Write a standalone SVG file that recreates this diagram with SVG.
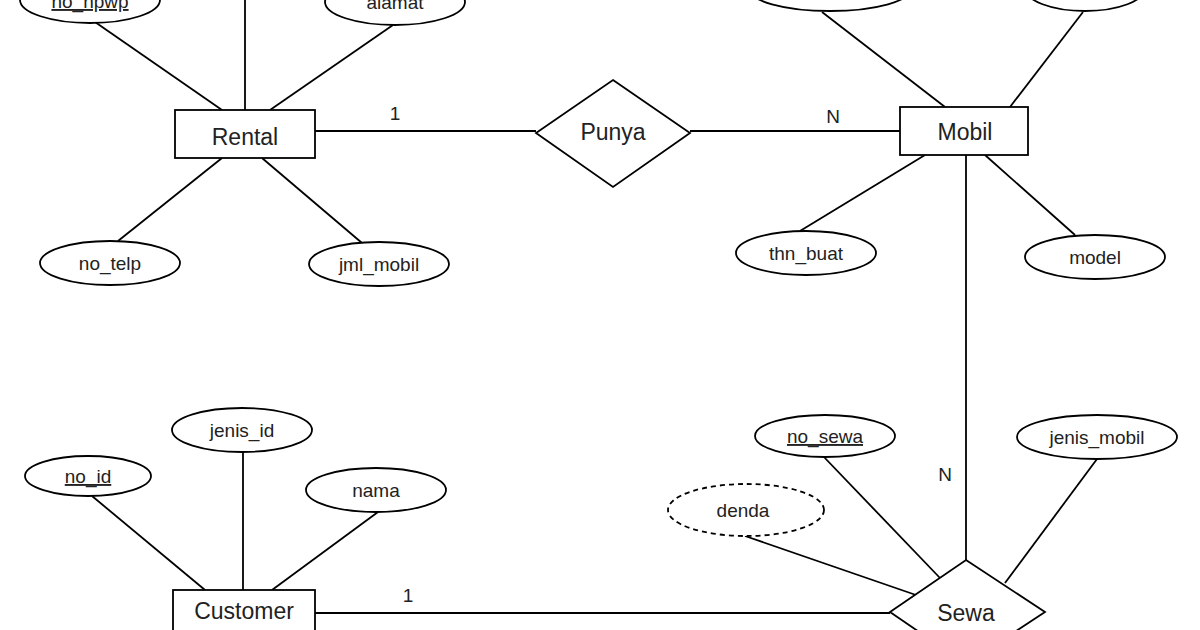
<svg xmlns="http://www.w3.org/2000/svg" width="1200" height="630" viewBox="0 0 1200 630">
<style>
.s{fill:#fff;stroke:#000;stroke-width:1.8}
.d{stroke-dasharray:5,4}
.l{stroke:#000;stroke-width:1.8;fill:none}
text{font-family:"Liberation Sans",Arial,sans-serif;fill:#222;text-anchor:middle}
.e{font-size:23px}
.a{font-size:19px}
.u{text-decoration:underline}
</style>
<rect width="1200" height="630" fill="#fff"/>
<g id="connectors">
<line class="l" x1="95" y1="22" x2="222" y2="110"/>
<line class="l" x1="245" y1="0" x2="245" y2="110"/>
<line class="l" x1="393" y1="25" x2="270" y2="110"/>
<line class="l" x1="222" y1="158" x2="118" y2="241"/>
<line class="l" x1="262" y1="158" x2="362" y2="243"/>
<line class="l" x1="315" y1="131" x2="536" y2="131"/>
<line class="l" x1="690" y1="131" x2="900" y2="131"/>
<line class="l" x1="822" y1="12" x2="945" y2="107"/>
<line class="l" x1="1083" y1="12" x2="1010" y2="107"/>
<line class="l" x1="925" y1="155" x2="800" y2="231"/>
<line class="l" x1="985" y1="155" x2="1075" y2="235"/>
<line class="l" x1="966" y1="155" x2="966" y2="560"/>
<line class="l" x1="823" y1="456" x2="940" y2="578"/>
<line class="l" x1="1097" y1="459" x2="1005" y2="583"/>
<line class="l" x1="745" y1="536" x2="916" y2="595"/>
<line class="l" x1="315" y1="613" x2="890" y2="613"/>
<line class="l" x1="243" y1="452" x2="243" y2="590"/>
<line class="l" x1="92" y1="496" x2="205" y2="590"/>
<line class="l" x1="378" y1="512" x2="272" y2="590"/>
<text class="a" x="395" y="120">1</text>
<text class="a" x="833" y="123">N</text>
<text class="a" x="945" y="481">N</text>
<text class="a" x="408" y="602">1</text>
</g>
<g id="rental"><rect class="s" x="175" y="110" width="140" height="48"/><text class="e" x="245" y="145">Rental</text></g>
<g id="no_npwp"><ellipse class="s" cx="90" cy="0" rx="70" ry="23"/><text class="a u" x="90" y="8">no_npwp</text></g>
<g id="alamat"><ellipse class="s" cx="395" cy="2" rx="70" ry="23"/><text class="a" x="395" y="9">alamat</text></g>
<g id="no_telp"><ellipse class="s" cx="110" cy="263" rx="70" ry="22"/><text class="a" x="110" y="270">no_telp</text></g>
<g id="jml_mobil"><ellipse class="s" cx="379" cy="264" rx="70" ry="22"/><text class="a" x="379" y="271">jml_mobil</text></g>
<g id="punya"><polygon class="s" points="613,80 690,133 613,187 536,133"/><text class="e" x="613" y="140">Punya</text></g>
<g id="mobil"><rect class="s" x="900" y="107" width="128" height="48"/><text class="e" x="965" y="140">Mobil</text></g>
<g id="top1"><ellipse class="s" cx="830" cy="-12" rx="82" ry="23"/></g>
<g id="top2"><ellipse class="s" cx="1085" cy="-12" rx="60" ry="23"/></g>
<g id="thn_buat"><ellipse class="s" cx="806" cy="253" rx="70" ry="22"/><text class="a" x="806" y="260">thn_buat</text></g>
<g id="model"><ellipse class="s" cx="1095" cy="257" rx="70" ry="22"/><text class="a" x="1095" y="264">model</text></g>
<g id="sewa"><polygon class="s" points="966,560 1045,612 966,664 890,612"/><text class="e" x="966" y="621">Sewa</text></g>
<g id="no_sewa"><ellipse class="s" cx="825" cy="436" rx="70" ry="21"/><text class="a u" x="825" y="443">no_sewa</text></g>
<g id="jenis_mobil"><ellipse class="s" cx="1097" cy="437" rx="80" ry="22"/><text class="a" x="1097" y="444">jenis_mobil</text></g>
<g id="denda"><ellipse class="s d" cx="746" cy="510" rx="78" ry="26"/><text class="a" x="743" y="517">denda</text></g>
<g id="customer"><rect class="s" x="173" y="590" width="142" height="50"/><text class="e" x="244" y="619">Customer</text></g>
<g id="jenis_id"><ellipse class="s" cx="242" cy="430" rx="70" ry="22"/><text class="a" x="242" y="437">jenis_id</text></g>
<g id="no_id"><ellipse class="s" cx="88" cy="476" rx="63" ry="20"/><text class="a u" x="88" y="483">no_id</text></g>
<g id="nama"><ellipse class="s" cx="376" cy="490" rx="70" ry="22"/><text class="a" x="376" y="497">nama</text></g>
</svg>
